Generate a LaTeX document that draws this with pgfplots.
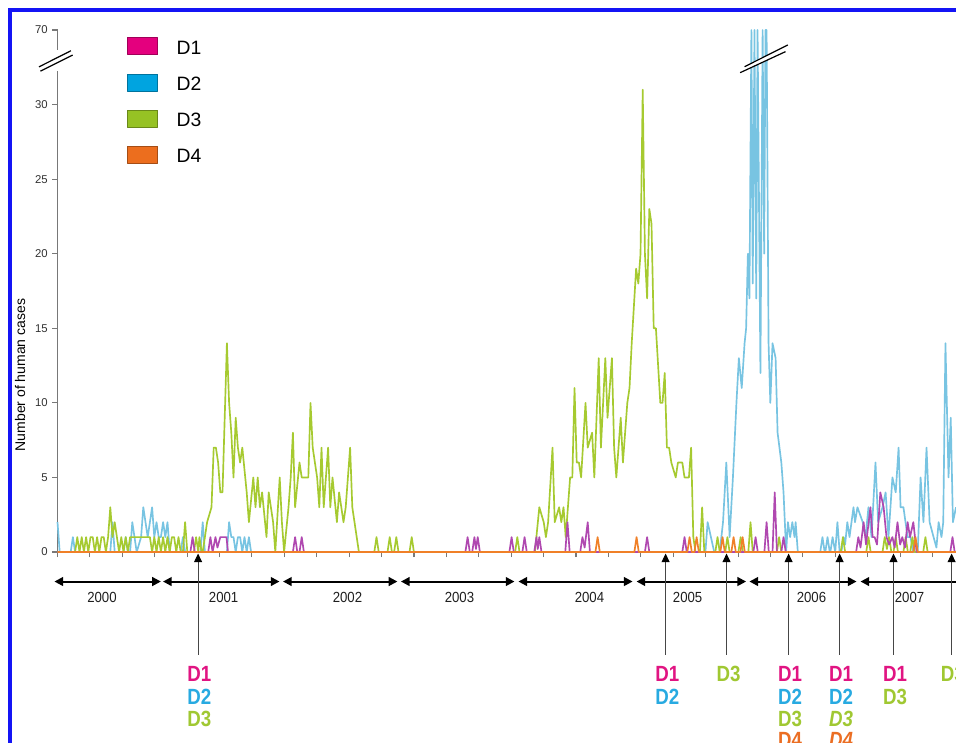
\documentclass[border=0pt]{standalone}
\usepackage{fontspec}
\setmainfont{Liberation Sans}
\usepackage{graphicx}
\usepackage{pgfplots}
\pgfplotsset{compat=1.18}
\usetikzlibrary{arrows.meta}
\definecolor{cD1}{RGB}{176,72,176}
\definecolor{cD2}{RGB}{120,196,226}
\definecolor{cD3}{RGB}{166,202,48}
\definecolor{cD4}{RGB}{240,128,40}
\definecolor{lD1}{RGB}{228,0,126}
\definecolor{lD2}{RGB}{0,164,224}
\definecolor{lD3}{RGB}{150,194,36}
\definecolor{lD4}{RGB}{236,110,30}
\definecolor{tD1}{RGB}{225,20,130}
\definecolor{tD2}{RGB}{40,170,225}
\definecolor{tD3}{RGB}{160,200,50}
\definecolor{tD4}{RGB}{235,110,35}
\definecolor{axisgray}{RGB}{120,120,120}
\definecolor{tickgray}{RGB}{50,50,50}
\definecolor{frameblue}{RGB}{20,20,245}
\tikzset{
  dl/.style={font=\fontsize{16.5}{18}\selectfont\bfseries, inner sep=0pt, anchor=center},
  yl/.style={font=\fontsize{11}{13}\selectfont, inner sep=0pt, anchor=center, text={rgb,255:red,30;green,30;blue,30}},
  yarr/.style={black, line width=1.5pt, {Triangle[width=6.5pt,length=6.5pt]}-{Triangle[width=6.5pt,length=6.5pt]}},
  varr/.style={color={rgb,255:red,70;green,70;blue,70}, line width=0.75pt, -{Triangle[width=6pt,length=6.5pt,color=black]}}
}
\begin{document}
\begin{tikzpicture}
\path[use as bounding box, clip] (0,0) rectangle (717pt,-556.5pt);
\fill[white] (0,0) rectangle (717pt,-556.5pt);
\draw[frameblue, line width=2.5pt] (7.5pt,-7.5pt) rectangle (800pt,-700pt);
\begin{axis}[
  at={(43.125pt,-414pt)}, anchor=south west,
  scale only axis, width=673.875pt, height=391.5pt,
  xmin=0, xmax=408.4, ymin=0, ymax=35,
  clip=false,
  axis x line*=bottom, axis y line*=left,
  axis line style={-},
  x axis line style={draw=none},
  y axis line style={draw=axisgray, line width=1.1pt},
  xtick distance=14.73, xticklabels={},
  ytick={0,5,10,15,20,25,30,35},
  yticklabels={\mbox{0},\mbox{5},\mbox{10},\mbox{15},\mbox{20},\mbox{25},\mbox{30},\mbox{70}},
  tick align=outside, major tick length=3.75pt,
  tick style={axisgray, line width=0.8pt},
  yticklabel style={font=\fontsize{8.5}{9}\selectfont, text=tickgray},
  ylabel={Number of human cases},
  ylabel style={at={(axis description cs:-0.0417,0.339)}, anchor=center, font=\fontsize{10.5}{12}\selectfont},
  legend style={draw=none, fill=none, at={(axis cs:31.8,34.5)}, anchor=north west,
    inner sep=0pt, outer sep=0pt, row sep=12.9pt,
    font=\fontsize{14.5}{17}\selectfont,
    nodes={inner sep=0pt},
    /tikz/every odd column/.style={column sep=14pt}},
  legend cell align=left,
  every axis plot/.append style={line width=1.25pt, line join=round},
]
% D2
\addplot[cD2, forget plot] coordinates {
(0,2)(1,0)(6,0)(7,1)(8,0)(24,0)(25,2)(26,0)(30,0)(31,1)(32,0)(33,0)(34,2)(35,1)(36,0)(38,1)(39,3)(40,2)(41,1)(42,2)(43,3)(44,1)(45,2)(46,1)(47,1)(48,2)(49,1)(50,2)(51,0)(56,0)(57,1)(58,0)(65,0)(66,2)(67,0)(77,0)(78,2)(79,1)(80,1)(81,0)(82,1)(83,1)(84,0)(85,1)(86,0)(87,1)(88,0)
(294.5,0)(295.5,2)(297,1)(298.5,0)(301,0)(302.5,2)(304,6)(305.5,1)(307,5)(308.6,10)(309.7,13)(311,11)(312.3,14)(313,15)(313.8,20)(314.5,17)(315.4,35)(316,18)(316.8,35)(317.6,17)(318.2,35)(319.5,12)(320.5,35)(321.2,20)(321.8,35)(322.3,35)(323.2,14)(324,10)(325,14)(326.4,13)(327.3,8)(329,6)(330,4)(331.2,0)(332,2)(333,1)(334,2)(335,1)(335.5,2)(336.5,0)
(346.7,0)(347.7,1)(348.7,0)(349,0)(350,1)(351,0)(351.3,0)(352.3,1)(353.5,0)(354.5,2)(355.5,0)(356.3,0)(357.3,1)(358,0.5)(359,2)(360,1)(361.8,3)(362.5,2)(363.6,3)(366,2)(367.3,1)(368.6,3)(370,1)(371.8,6)(373,2)(375,3)(376.4,4)(377.7,1)(379.5,5)(381,4)(382.3,7)(383.2,3)(384.5,3)(386.4,1)(387.7,1)(389,0)(391,0)(392.3,5)(393.6,2)(395,7)(396.4,2)(398.2,1)(399.5,0.3)(400.5,2)(401.8,1)(402.6,2)(403.6,14)(405,5)(406,9)(407,2)(408.4,3)
};
% D3
\addplot[cD3, forget plot] coordinates {
(0,0)(8,0)(9,1)(10,0)(11,1)(12,0)(13,1)(14,0)(15,1)(16,1)(17,0)(18,1)(19,0)(20,1)(21,1)(22,0)(23,1)(24,3)(25,1)(26,2)(27,1)(28,0)(29,1)(30,0)(31,1)(32,0)(33,1)(42,1)(43,0)(44,1)(45,0)(46,1)(47,0)(48,1)(49,0)(50,1)(51,0)(52,1)(53,1)(54,0)(55,1)(56,0)(57,0)(58,2)(59,0)(62,0)(63,1)(64,0)(64.5,1)(65.5,0)
(66,0)(68,2)(70,3)(71,7)(72,7)(73,6)(74,4)(75,4)(77,14)(78,10)(79,8)(80,5)(81,9)(82,7)(83,6)(84,7)(86,4)(87,2)(89,5)(90,3)(91,5)(92,3)(93,4)(95,1)(96,4)(98,2)(99,0)(101,5)(102,2)(103,0)(105,3)(106,5)(107,8)(108,3)(110,6)(111,5)(112,5)(114,5)(115,10)(116,7)(118,5)(119,3)(120,7)(121,3)(123,7)(124,3)(125,5)(127,2)(128,4)(130,2)(131,3)(133,7)(134,3)(136,1)(137,0)
(144,0)(145,1)(146,0)(150,0)(151,1)(152,0)(153,0)(154,1)(155,0)(160,0)(161,1)(162,0)(208,0)(209,1)(210,0)
(217,0)(219,3)(221,2)(222,1)(223,2)(225,7)(226,2)(228,3)(229,2)(230,3)(231,1)(233,5)(234,5)(235,11)(236,6)(237,6)(238,5)(240,10)(241,7)(243,8)(244,5)(246,13)(247,7)(249,13)(250,9)(252,13)(253,7)(254,5)(256,9)(257,6)(259,10)(260,11)(261,14)(263,19)(264,18)(265,20)(266,31)(267,20)(268,17)(269,23)(270,22)(271,15)(272,15)(274,10)(275,10)(276,12)(277,7)(278,7)(279,6)(281,5)(282,6)(284,6)(285,5)(287,5)(288,7)(289,1)(290,0)(292,0)(293,3)(294,0)
(299,0)(300,1)(301,0)(303.5,0)(304.5,1)(305.5,0)(309.5,0)(310.5,1)(311.5,0)(314,0)(315,2)(316,0)(327,0)(328,1)(329,0)(356,0)(357,1)(358,0)(367.6,0)(368.6,1)(369.6,0)(375,0)(376,1)(377,0.2)(378,1)(379,0)(380,0)(381,1)(382,0)(384.5,0)(385.5,1)(386.5,0)(387.6,0)(388.6,1)(389.6,0)(393.5,0)(394.5,1)(395.5,0)(408.4,0)
};
% D1
\addplot[cD1, forget plot] coordinates {
(0,0)(60.4,0)(61.4,1)(62.4,0)(68.5,0)(69.5,1)(70.5,0)(71.8,1)(72.7,0.3)(74,1)(76.8,1)(77.5,0)
(107,0)(108,1)(109,0)(110,0)(111,1)(112,0)
(185.4,0)(186.4,1)(187.4,0)(188.5,0)(189.5,1)(190.2,0.2)(191,1)(192,0)
(205.4,0)(206.4,1)(207.4,0)(211.3,0)(212.3,1)(213.3,0)
(216.7,0)(217.7,1)(218.3,0.2)(219,1)(220,0)(230.8,0)(231.8,2)(232.8,0)
(237.6,0)(238.6,1)(239.6,0.3)(241,2)(242,0)(267,0)(268,1)(269,0)(284,0)(285,1)(286,0)
(316.3,0)(317.3,1)(318.3,0)(321.3,0)(322.3,2)(323.3,0)(325,0)(326,4)(327,0)(329,0)(330,1)(331,0)
(363,0)(364,1)(365,0.3)(366.4,2)(367.5,0.5)(369.5,3)(370.5,1)(371.4,1)(372.5,0.5)(374,4)(375.5,3)(376.8,1)(378,0.5)(379.5,1)(380.5,0.3)(381.8,2)(383,0.5)(384,1)(385.2,0.3)(386.4,2)(387.5,1)(389,2)(390.5,0)
(405.8,0)(406.8,1)(407.8,0)(408.4,0)
};
% D4
\addplot[cD4, forget plot] coordinates {
(0,0)(244.5,0)(245.5,1)(246.5,0)(262.2,0)(263.2,1)(264.2,0)(286.3,0)(287.3,1)(288.3,0)(289.5,0)(290.5,1)(291.5,0)(301.3,0)(302.3,1)(303.3,0)(306.3,0)(307.3,1)(308.3,0)(310.4,0)(311.4,1)(312.4,0)(389,0)(390,1)(391,0)(408.4,0)
};
\addlegendimage{legend image code/.code={\draw[fill=lD1, draw=lD1!70!black, line width=0.4pt] (0pt,-4.5pt) rectangle (22.5pt,8.25pt);}}
\addlegendentry{D1}
\addlegendimage{legend image code/.code={\draw[fill=lD2, draw=lD2!70!black, line width=0.4pt] (0pt,-4.5pt) rectangle (22.5pt,8.25pt);}}
\addlegendentry{D2}
\addlegendimage{legend image code/.code={\draw[fill=lD3, draw=lD3!70!black, line width=0.4pt] (0pt,-4.5pt) rectangle (22.5pt,8.25pt);}}
\addlegendentry{D3}
\addlegendimage{legend image code/.code={\draw[fill=lD4, draw=lD4!70!black, line width=0.4pt] (0pt,-4.5pt) rectangle (22.5pt,8.25pt);}}
\addlegendentry{D4}
% axis break (left)
\fill[white] (axis cs:-2.5,33.66) rectangle (axis cs:2.5,32.25);
\draw[black, line width=0.9pt] (axis cs:-8.4,32.53) -- (axis cs:6.1,33.61);
\draw[black, line width=0.9pt] (axis cs:-7.8,32.24) -- (axis cs:6.9,33.32);
% axis break (D2 peak)
\fill[white] (axis cs:312.3,32.54) -- (axis cs:331.95,34.0) -- (axis cs:330.9,33.55) -- (axis cs:310.3,32.14) -- cycle;
\draw[black, line width=0.9pt] (axis cs:312.3,32.54) -- (axis cs:331.95,34.0);
\draw[black, line width=0.9pt] (axis cs:310.3,32.14) -- (axis cs:330.9,33.55);
% year arrows
\draw[yarr] (axis cs:-1.4,-1.98) -- (axis cs:47.0,-1.98);
\draw[yarr] (axis cs:47.95,-1.98) -- (axis cs:100.9,-1.98);
\draw[yarr] (axis cs:102.5,-1.98) -- (axis cs:154.5,-1.98);
\draw[yarr] (axis cs:156.1,-1.98) -- (axis cs:207.7,-1.98);
\draw[yarr] (axis cs:209.5,-1.98) -- (axis cs:261.4,-1.98);
\draw[yarr] (axis cs:263.2,-1.98) -- (axis cs:313.0,-1.98);
\draw[yarr] (axis cs:314.5,-1.98) -- (axis cs:363.2,-1.98);
\draw[yarr] (axis cs:365.0,-1.98) -- (axis cs:440,-1.98);
\node[yl] at (axis cs:20.2,-3.02) {\scalebox{0.9}[1]{2000}};
\node[yl] at (axis cs:75.5,-3.02) {\scalebox{0.9}[1]{2001}};
\node[yl] at (axis cs:131.8,-3.02) {\scalebox{0.9}[1]{2002}};
\node[yl] at (axis cs:182.7,-3.02) {\scalebox{0.9}[1]{2003}};
\node[yl] at (axis cs:241.8,-3.02) {\scalebox{0.9}[1]{2004}};
\node[yl] at (axis cs:286.4,-3.02) {\scalebox{0.9}[1]{2005}};
\node[yl] at (axis cs:342.7,-3.02) {\scalebox{0.9}[1]{2006}};
\node[yl] at (axis cs:387.3,-3.02) {\scalebox{0.9}[1]{2007}};
% introduction arrows
\draw[varr] (axis cs:63.9,-6.9) -- (axis cs:63.9,-0.1);
\draw[varr] (axis cs:276.4,-6.9) -- (axis cs:276.4,-0.1);
\draw[varr] (axis cs:304.1,-6.9) -- (axis cs:304.1,-0.1);
\draw[varr] (axis cs:332.3,-6.9) -- (axis cs:332.3,-0.1);
\draw[varr] (axis cs:355.5,-6.9) -- (axis cs:355.5,-0.1);
\draw[varr] (axis cs:380.0,-6.9) -- (axis cs:380.0,-0.1);
\draw[varr] (axis cs:406.4,-6.9) -- (axis cs:406.4,-0.1);
% labels
\node[dl, text=tD1] at (axis cs:64.5,-8.15) {\scalebox{0.85}[1]{D1}};
\node[dl, text=tD2] at (axis cs:64.5,-9.72) {\scalebox{0.85}[1]{D2}};
\node[dl, text=tD3] at (axis cs:64.5,-11.17) {\scalebox{0.85}[1]{D3}};
\node[dl, text=tD1] at (axis cs:277.2,-8.15) {\scalebox{0.85}[1]{D1}};
\node[dl, text=tD2] at (axis cs:277.2,-9.72) {\scalebox{0.85}[1]{D2}};
\node[dl, text=tD3] at (axis cs:305.0,-8.15) {\scalebox{0.85}[1]{D3}};
\node[dl, text=tD1] at (axis cs:333.0,-8.15) {\scalebox{0.85}[1]{D1}};
\node[dl, text=tD2] at (axis cs:333.0,-9.72) {\scalebox{0.85}[1]{D2}};
\node[dl, text=tD3] at (axis cs:333.0,-11.17) {\scalebox{0.85}[1]{D3}};
\node[dl, text=tD4] at (axis cs:333.0,-12.6) {\scalebox{0.85}[1]{D4}};
\node[dl, text=tD1] at (axis cs:356.2,-8.15) {\scalebox{0.85}[1]{D1}};
\node[dl, text=tD2] at (axis cs:356.2,-9.72) {\scalebox{0.85}[1]{D2}};
\node[dl, text=tD3] at (axis cs:356.2,-11.17) {\scalebox{0.85}[1]{\itshape D3}};
\node[dl, text=tD4] at (axis cs:356.2,-12.6) {\scalebox{0.85}[1]{\itshape D4}};
\node[dl, text=tD1] at (axis cs:380.7,-8.15) {\scalebox{0.85}[1]{D1}};
\node[dl, text=tD3] at (axis cs:380.7,-9.72) {\scalebox{0.85}[1]{D3}};
\node[dl, text=tD3] at (axis cs:407.0,-8.15) {\scalebox{0.85}[1]{D3}};
\end{axis}
\end{tikzpicture}
\end{document}
